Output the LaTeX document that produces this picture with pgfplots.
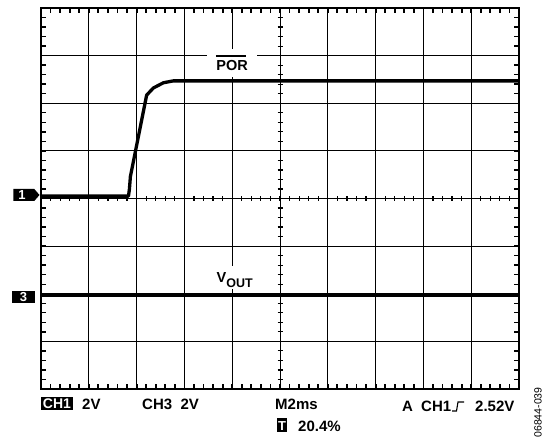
\documentclass[border=0pt]{standalone}
\usepackage{fontspec}
\setmainfont{Liberation Sans}
\usepackage{pgfplots}
\pgfplotsset{compat=1.18}
\begin{document}
\begin{tikzpicture}
\useasboundingbox (0pt,0pt) rectangle (553pt,446pt);
\begin{axis}[at={(41pt,57pt)}, anchor=south west, scale only axis,
  width=478pt, height=381pt, xmin=-5, xmax=5, ymin=-4, ymax=4,
  xtick={-5,...,5}, ytick={-4,...,4},
  xticklabels={}, yticklabels={}, grid=major,
  major grid style={black, line width=0.9pt},
  major tick length=0pt,
  axis line style={black, line width=1.8pt}, clip=false]
% centre-line ticks
\pgfplotsinvokeforeach{-4.8,-4.6,...,4.85}{
  \draw[line width=1.2pt] (axis cs:#1,0) ++(0pt,-2.5pt) -- ++(0pt,5pt);
}
\pgfplotsinvokeforeach{-3.8,-3.6,...,3.85}{
  \draw[line width=1.2pt] (axis cs:0,#1) ++(-2.5pt,0pt) -- ++(5pt,0pt);
}
\fill[white] (axis cs:-1.53,2.55) rectangle (axis cs:-0.48,3.14);
\fill[white] (axis cs:-1.38,-1.90) rectangle (axis cs:-0.50,-1.42);
% CH1 : POR
\addplot[black, line width=3.3pt, line join=round] coordinates {
(-5,0.05) (-3.17,0.05) (-3.15,0.2) (-3.13,0.46) (-2.79,2.17) (-2.65,2.32)
(-2.44,2.43) (-2.23,2.47) (-2.06,2.47) (5,2.47)};
% CH3 : VOUT
\addplot[black, line width=3.3pt] coordinates {(-5,-2.03) (5,-2.03)};
\node[anchor=base, inner sep=0pt, font=\fontsize{14.5}{14.5}\selectfont\bfseries]
  at (axis cs:-1,2.68) {POR};
\draw[line width=1.3pt] (axis cs:-1.34,2.99) -- (axis cs:-0.71,2.99);
\node[anchor=base west, inner sep=0pt, font=\fontsize{14.5}{14.5}\selectfont\bfseries]
  at (axis cs:-1.33,-1.76) {V\raisebox{-5pt}{\fontsize{12.5}{12.5}\selectfont OUT}};
\end{axis}
% frame ticks of the graticule
\foreach \i in {1,...,49} {
  \pgfmathsetmacro{\xx}{41+9.56*\i}
  \draw[line width=1.8pt] (\xx pt,57pt) -- (\xx pt,62pt);
  \draw[line width=1.8pt] (\xx pt,438pt) -- (\xx pt,433pt);
}
\foreach \i in {1,...,39} {
  \pgfmathsetmacro{\yy}{57+9.525*\i}
  \draw[line width=1.4pt] (41pt,\yy pt) -- (46pt,\yy pt);
  \draw[line width=1.4pt] (519pt,\yy pt) -- (514pt,\yy pt);
}
% channel markers
\fill (13.3pt,257pt) -- (34.3pt,257pt) -- (39.5pt,251pt) -- (34.3pt,245pt) -- (13.3pt,245pt) -- cycle;
\node[text=white, inner sep=0pt, font=\fontsize{13}{13}\selectfont\bfseries] at (22pt,251pt) {1};
\fill (12.3pt,142.7pt) rectangle (35pt,155pt);
\node[text=white, inner sep=0pt, font=\fontsize{13}{13}\selectfont\bfseries] at (23.5pt,149pt) {3};
% bottom readout
\tikzset{lab/.style={anchor=base west, inner sep=0pt, font=\fontsize{15}{15}\selectfont\bfseries}}
\fill (41pt,36pt) rectangle (73pt,49.3pt);
\node[anchor=base, inner sep=0pt, text=white, font=\fontsize{14}{14}\selectfont\bfseries] at (57pt,37pt) {CH1};
\node[lab] at (82pt,36pt) {2V};
\node[lab] at (142pt,36pt) {CH3\ \ 2V};
\node[lab] at (275pt,36pt) {M2ms};
\fill (277pt,14pt) rectangle (287pt,28pt);
\node[anchor=base, inner sep=0pt, text=white, font=\fontsize{13}{13}\selectfont\bfseries] at (282pt,15.5pt) {T};
\node[lab] at (298pt,14pt) {20.4\%};
\node[lab] at (402pt,34pt) {A};
\node[lab] at (421pt,34pt) {CH1};
\draw[line width=1.1pt] (452pt,35pt) -- (456.5pt,35pt) -- (458pt,44pt) -- (464pt,44pt);
\node[lab] at (475pt,34pt) {2.52V};
\node[rotate=90, inner sep=0pt, font=\fontsize{10.5}{10.5}\selectfont] at (538pt,33.5pt) {06844-039};
\end{tikzpicture}
\end{document}
